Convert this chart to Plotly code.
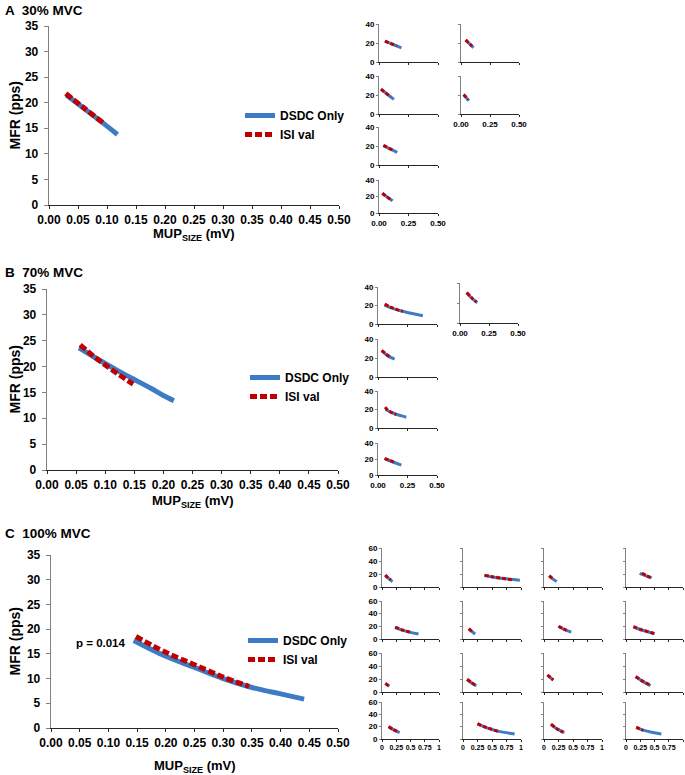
import plotly.graph_objects as go

W, H = 685, 775
BLUE = "#3D7CC4"
RED = "#C00000"
FONT = "Liberation Sans, Arial, sans-serif"

# ---------------- main panel data ----------------
a_dsdc_x = [0.030, 0.060, 0.090, 0.118]
a_dsdc_y = [21.5, 18.9, 16.3, 13.8]
a_isi_x = [0.029, 0.060, 0.093]
a_isi_y = [21.8, 19.0, 16.1]

b_dsdc_x = [0.055, 0.08, 0.10, 0.12, 0.14, 0.16, 0.18, 0.20, 0.218]
b_dsdc_y = [23.6, 21.9, 20.6, 19.3, 18.1, 16.9, 15.7, 14.4, 13.4]
b_isi_x = [0.057, 0.08, 0.10, 0.12, 0.148]
b_isi_y = [24.2, 22.0, 20.3, 18.7, 16.6]

c_dsdc_x = [0.144, 0.20, 0.25, 0.30, 0.35, 0.40, 0.441]
c_dsdc_y = [17.7, 14.5, 12.25, 10.0, 8.2, 6.9, 5.85]
c_isi_x = [0.148, 0.20, 0.25, 0.30, 0.345]
c_isi_y = [18.5, 15.3, 12.8, 10.3, 8.4]

c_p_text = "p = 0.014"
legend_names = ["DSDC Only", "ISI val"]
panel_titles = ["A  30% MVC", "B  70% MVC", "C  100% MVC"]
x_title = "MUP<sub>SIZE</sub> (mV)"
y_title = "MFR (pps)"

# ---------------- small panel data (per subject) ----------------
a_small_dsdc_x = [[0.05, 0.19], [0.04, 0.108], [0.017, 0.126], [0.023, 0.068], [0.037, 0.155], [0.028, 0.115]]
a_small_dsdc_y = [[21.9, 14.9], [23.0, 15.2], [26.0, 15.4], [20.4, 14.0], [20.4, 13.3], [23.7, 14.7]]
a_small_isi_x = [[0.05, 0.15], [0.04, 0.095], [0.017, 0.098], [0.023, 0.06], [0.037, 0.115], [0.028, 0.11]]
a_small_isi_y = [[22.0, 17.0], [23.2, 16.8], [26.2, 18.0], [20.6, 15.2], [20.6, 15.8], [23.9, 15.0]]

b_small_dsdc_x = [[0.056, 0.10, 0.15, 0.20, 0.25, 0.30, 0.38], [0.057, 0.10, 0.149],
                  [0.031, 0.08, 0.141], [0.065, 0.10, 0.15, 0.20, 0.24], [0.056, 0.10, 0.15, 0.198]]
b_small_dsdc_y = [[20.4, 18.0, 15.8, 14.0, 12.4, 11.0, 8.9], [30.2, 25.0, 20.3],
                  [27.6, 22.5, 18.8], [20.2, 17.6, 15.0, 13.1, 11.7], [20.6, 17.8, 15.0, 12.4]]
b_small_isi_x = [[0.056, 0.10, 0.15, 0.21], [0.057, 0.10, 0.14],
                 [0.031, 0.065, 0.10], [0.06, 0.08, 0.11, 0.155], [0.056, 0.10, 0.136]]
b_small_isi_y = [[21.4, 18.6, 16.0, 13.6], [30.5, 25.3, 21.0],
                 [28.0, 24.5, 21.2], [22.5, 19.5, 17.0, 14.4], [20.9, 18.0, 16.1]]

c_small_dsdc_x = [[0.058, 0.12, 0.185], [0.37, 0.5, 0.7, 0.98], [0.09, 0.15, 0.22], [0.24, 0.35, 0.45],
                  [0.23, 0.35, 0.5, 0.64], [0.10, 0.15, 0.21], [0.25, 0.35, 0.47], [0.13, 0.25, 0.38, 0.5],
                  [0.058, 0.13], [0.07, 0.15, 0.23], [0.06, 0.11, 0.16], [0.17, 0.3, 0.43],
                  [0.116, 0.2, 0.31], [0.25, 0.4, 0.6, 0.89], [0.12, 0.22, 0.35], [0.18, 0.3, 0.45, 0.62]]
c_small_dsdc_y = [[18.3, 13.0, 8.3], [17.5, 15.5, 13.0, 10.5], [17.2, 12.5, 8.3], [20.9, 17.0, 14.0],
                  [18.3, 14.0, 10.5, 7.8], [16.2, 12.0, 7.8], [19.8, 15.0, 10.9], [19.3, 15.0, 11.5, 8.3],
                  [13.0, 9.0], [19.3, 14.0, 9.4], [26.0, 22.0, 18.3], [23.5, 16.0, 9.9],
                  [20.0, 15.0, 10.4], [24.4, 18.5, 12.8, 8.2], [23.7, 16.5, 10.4], [18.5, 14.5, 11.0, 8.2]]
c_small_isi_x = [[0.058, 0.10, 0.156], [0.37, 0.5, 0.7, 0.87], [0.09, 0.16], [0.28, 0.36, 0.45],
                 [0.23, 0.35, 0.49], [0.10, 0.155], [0.25, 0.32, 0.39], [0.13, 0.25, 0.38, 0.5],
                 [0.058, 0.12], [0.07, 0.15, 0.22], [0.06, 0.11, 0.16], [0.17, 0.3, 0.43],
                 [0.116, 0.2, 0.28], [0.25, 0.4, 0.6], [0.12, 0.22, 0.33], [0.18, 0.24, 0.30]]
c_small_isi_y = [[18.5, 14.5, 11.0], [18.3, 16.0, 13.0, 10.8], [17.5, 12.0], [21.5, 17.5, 13.5],
                 [18.8, 14.5, 10.9], [16.5, 11.8], [20.2, 16.8, 13.5], [19.6, 15.3, 11.8, 8.6],
                 [13.3, 9.5], [19.6, 14.3, 10.0], [26.3, 22.3, 18.5], [23.8, 16.3, 10.2],
                 [20.3, 15.3, 11.8], [24.8, 18.8, 12.5], [24.0, 16.8, 11.0], [19.2, 16.5, 14.0]]

main_xticks = [0.00, 0.05, 0.10, 0.15, 0.20, 0.25, 0.30, 0.35, 0.40, 0.45, 0.50]
main_yticks = [0, 5, 10, 15, 20, 25, 30, 35]
ab_small_xticks = [0.0, 0.25, 0.5]
ab_small_xlabels = ["0.00", "0.25", "0.50"]
ab_small_yticks = [0, 20, 40]
c_small_xticks = [0, 0.25, 0.5, 0.75, 1]
c_small_xlabels = ["0", "0.25", "0.5", "0.75", "1"]
c_small_yticks = [0, 20, 40, 60]

# ---------------- layout helpers ----------------
fig = go.Figure()
layout = {}
counter = [0]


def px_x(x):
    return x / W


def px_y(y):
    return 1 - y / H


def add_panel(xpx, ypx, xrange, yrange, xt, xl, yt, yl, show_x, show_y, dsdc, isi,
              main=False, legend=None, xfont=8):
    counter[0] += 1
    n = counter[0]
    sfx = "" if n == 1 else str(n)
    yfont = dict(family=FONT, size=12 if main else 8, color="#000000", weight="bold")
    xf = dict(family=FONT, size=12 if main else xfont, color="#000000", weight="bold")
    layout["xaxis" + sfx] = dict(
        domain=[px_x(xpx[0]), px_x(xpx[1])], range=xrange, anchor="y" + sfx,
        tickvals=xt, ticktext=xl, showticklabels=show_x, tickangle=0, automargin=False,
        showline=True, linecolor="#262626", linewidth=1.3 if main else 1,
        ticks="outside", ticklen=3 if main else 2, tickcolor="#262626",
        showgrid=False, zeroline=False, tickfont=xf, fixedrange=True,
    )
    layout["yaxis" + sfx] = dict(
        domain=[px_y(ypx[1]), px_y(ypx[0])], range=yrange, anchor="x" + sfx,
        tickvals=yt, ticktext=yl, showticklabels=show_y, automargin=False,
        showline=True, linecolor="#808080", linewidth=1.3 if main else 1,
        ticks="outside", ticklen=4 if main else 2, tickcolor="#808080",
        ticklabelstandoff=3 if main else 0,
        showgrid=False, zeroline=False, tickfont=yfont, fixedrange=True,
    )
    xa, ya = "x" + sfx, "y" + sfx
    fig.add_trace(go.Scatter(
        x=dsdc[0], y=dsdc[1], mode="lines", name=legend_names[0], xaxis=xa, yaxis=ya,
        line=dict(color=BLUE, width=5 if main else 3, shape="spline"),
        showlegend=main, legend=legend, hoverinfo="skip"))
    fig.add_trace(go.Scatter(
        x=isi[0], y=isi[1], mode="lines", name=legend_names[1], xaxis=xa, yaxis=ya,
        line=dict(color=RED, width=5 if main else 3, dash="7px,3px" if main else "4px,2px",
                  shape="spline"),
        showlegend=main, legend=legend, hoverinfo="skip"))
    return xa, ya


main_xlabels = ["%.2f" % v for v in main_xticks]
main_ylabels = [str(v) for v in main_yticks]

main_pos = [((49, 339), (26, 205)), ((47, 338), (289, 470)), ((51, 338), (555, 728))]
main_data = [((a_dsdc_x, a_dsdc_y), (a_isi_x, a_isi_y)),
             ((b_dsdc_x, b_dsdc_y), (b_isi_x, b_isi_y)),
             ((c_dsdc_x, c_dsdc_y), (c_isi_x, c_isi_y))]
legend_ids = ["legend", "legend2", "legend3"]
main_axes = []
for (xp, yp), (d, s), lg in zip(main_pos, main_data, legend_ids):
    main_axes.append(add_panel(xp, yp, [0, 0.5], [0, 35], main_xticks, main_xlabels, main_yticks,
                               main_ylabels, True, True, d, s, True, lg))

ab_ylabels = [str(v) for v in ab_small_yticks]
c_ylabels = [str(v) for v in c_small_yticks]

a_pos = [((379, 438), (24, 62), False, True), ((461, 519), (24, 62), False, False),
         ((379, 438), (76, 114), False, True), ((461, 519), (76, 114), True, False),
         ((379, 438), (127, 165), False, True), ((379, 438), (180, 213), True, True)]
for i, (xp, yp, sx, sy) in enumerate(a_pos):
    add_panel(xp, yp, [0, 0.5], [0, 40], ab_small_xticks, ab_small_xlabels, ab_small_yticks,
              ab_ylabels, sx, sy, (a_small_dsdc_x[i], a_small_dsdc_y[i]),
              (a_small_isi_x[i], a_small_isi_y[i]))

b_pos = [((378, 437), (287, 324), False, True), ((460, 518), (283, 323), True, False),
         ((378, 437), (339, 377), False, True), ((378, 437), (391, 428), False, True),
         ((378, 437), (443, 475), True, True)]
for i, (xp, yp, sx, sy) in enumerate(b_pos):
    add_panel(xp, yp, [0, 0.5], [0, 40], ab_small_xticks, ab_small_xlabels, ab_small_yticks,
              ab_ylabels, sx, sy, (b_small_dsdc_x[i], b_small_dsdc_y[i]),
              (b_small_isi_x[i], b_small_isi_y[i]))

c_cols = [(382, 439), (463, 521), (544, 602), (626, 683)]
c_rows = [(548, 587), (601, 639), (653, 692), (702, 739)]
k = 0
for r, yp in enumerate(c_rows):
    for c, xp in enumerate(c_cols):
        add_panel(xp, yp, [0, 1], [0, 60], c_small_xticks, c_small_xlabels, c_small_yticks,
                  c_ylabels, r == 3, c == 0, (c_small_dsdc_x[k], c_small_dsdc_y[k]),
                  (c_small_isi_x[k], c_small_isi_y[k]), xfont=7)
        k += 1

leg_font = dict(family=FONT, size=12, color="#000000", weight="bold")


def legend_at(xpx, ypx):
    return dict(x=px_x(xpx), y=px_y(ypx), xanchor="left", yanchor="middle", font=leg_font,
                bgcolor="rgba(0,0,0,0)", borderwidth=0, tracegroupgap=0, itemwidth=30)


title_font = dict(family=FONT, size=13.5, color="#000000", weight="bold")
axis_title_font = dict(family=FONT, size=13, color="#000000", weight="bold")
annotations = []
title_y = [10, 272, 533]
for t, ty in zip(panel_titles, title_y):
    annotations.append(dict(text=t, x=px_x(3), y=px_y(ty), xref="paper", yref="paper",
                            xanchor="left", yanchor="middle", showarrow=False, font=title_font))
xtitle_y = [234, 501, 766]
for (xp, yp), ty in zip(main_pos, xtitle_y):
    annotations.append(dict(text=x_title, x=px_x((xp[0] + xp[1]) / 2), y=px_y(ty),
                            xref="paper", yref="paper", xanchor="center", yanchor="middle",
                            showarrow=False, font=axis_title_font))
    annotations.append(dict(text=y_title, x=px_x(14), y=px_y((yp[0] + yp[1]) / 2),
                            xref="paper", yref="paper", xanchor="center", yanchor="middle",
                            textangle=-90, showarrow=False,
                            font=dict(family=FONT, size=14, color="#000000", weight="bold")))
annotations.append(dict(text=c_p_text, x=0.134, y=17.2, xref=main_axes[2][0], yref=main_axes[2][1],
                        xanchor="right", yanchor="middle", showarrow=False,
                        font=dict(family=FONT, size=11.5, color="#000000", weight="bold")))

layout.update(dict(
    width=W, height=H, margin=dict(l=0, r=0, t=0, b=0, pad=0, autoexpand=False),
    paper_bgcolor="white", plot_bgcolor="white",
    font=dict(family=FONT, color="#000000"),
    legend=legend_at(240, 125), legend2=legend_at(245, 387), legend3=legend_at(243, 650),
    annotations=annotations, showlegend=True,
))
fig.update_layout(**layout)
fig.write_html("out.html", config={"displayModeBar": False, "staticPlot": True},
               post_script="document.body.style.margin='0px';")
